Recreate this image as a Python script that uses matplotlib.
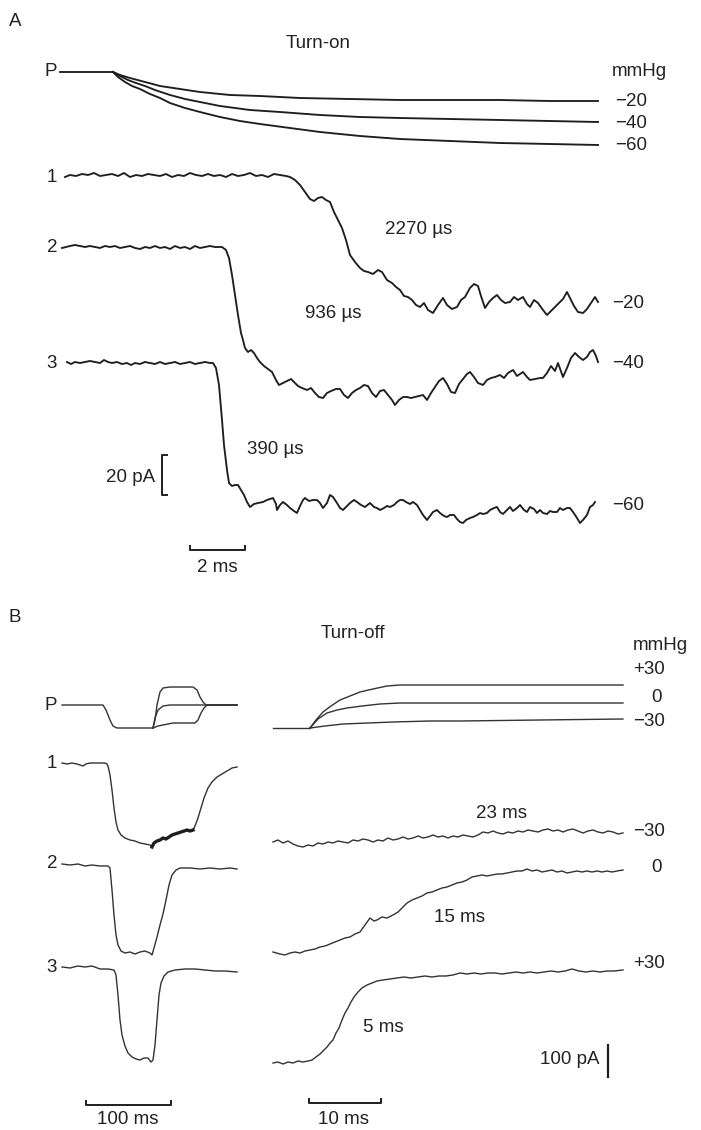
import matplotlib
matplotlib.use("Agg")
from matplotlib import pyplot as plt

plt.rcParams['font.family'] = ['Liberation Sans', 'DejaVu Sans']

# ---- Panel A (turn-on), in picture units ----
pA_flat_x = [60, 113]
pA_flat_y = [72, 72]
pA20_x = [113, 120, 130, 145, 160, 180, 200, 230, 260, 300, 350, 400, 450, 500, 550, 598]
pA20_y = [72, 75, 78, 82, 86, 89, 92, 95, 96, 98, 99, 100, 100, 100, 101, 101]
pA40_x = [113, 120, 128, 136, 145, 155, 170, 185, 200, 220, 250, 280, 320, 360, 400, 450, 500, 550, 598]
pA40_y = [72, 76, 80, 83, 86, 90, 95, 99, 102, 106, 110, 112, 115, 117, 118, 119, 120, 121, 122]
pA60_x = [113, 118, 125, 132, 140, 150, 160, 170, 185, 200, 220, 240, 260, 290, 320, 360, 400, 450, 500, 550, 598]
pA60_y = [72, 77, 82, 86, 89, 94, 98, 103, 108, 112, 117, 121, 124, 128, 132, 136, 139, 141, 143, 144, 145]

a1_x = [65, 70, 76, 82, 88, 94, 100, 106, 112, 118, 124, 130, 136, 142, 148, 154, 160, 166, 172, 178,
        184, 190, 196, 202, 208, 214, 220, 226, 232, 238, 244, 250, 256, 262, 268, 274, 280, 286,
        290, 295, 300, 305, 310, 314, 318, 322, 326, 330, 334, 338, 342, 346, 350, 355, 360, 364,
        368, 373, 378, 382, 387, 392, 396, 400, 404, 408, 412, 416, 420, 424, 428, 433, 438, 443,
        447, 452, 457, 461, 465, 470, 474, 478, 481, 485, 489, 493, 497, 501, 505, 510, 514, 518,
        523, 527, 530, 534, 538, 543, 547, 551, 555, 559, 563, 567, 570, 574, 578, 583, 587, 591,
        595, 598]
a1_y = [177, 175, 176, 174, 175, 173, 176, 175, 174, 176, 173, 177, 175, 176, 174, 175, 176, 174, 177, 175,
        176, 173, 175, 176, 174, 176, 175, 177, 174, 176, 175, 173, 176, 175, 177, 174, 175, 176,
        177, 180, 185, 192, 199, 201, 198, 197, 200, 202, 212, 220, 228, 240, 255, 262, 268, 271,
        272, 274, 270, 272, 280, 283, 287, 290, 296, 297, 300, 305, 307, 303, 310, 313, 305, 298,
        305, 309, 307, 300, 297, 288, 284, 286, 296, 308, 302, 298, 295, 300, 303, 302, 297, 300,
        297, 304, 307, 300, 303, 310, 315, 311, 307, 303, 299, 292, 298, 306, 312, 313, 309, 303,
        297, 302]

a2_x = [62, 66, 70, 75, 80, 85, 90, 95, 100, 105, 110, 115, 120, 125, 130, 135, 140, 145, 150, 155,
        160, 165, 170, 175, 180, 185, 190, 195, 200, 205, 210, 215, 222, 226, 229, 232, 235, 238,
        241, 243, 245, 248, 251, 254, 257, 260, 264, 268, 272, 276, 279, 283, 287, 291, 294, 298,
        302, 307, 311, 315, 319, 323, 327, 331, 336, 340, 344, 348, 352, 356, 360, 364, 368, 372,
        376, 380, 384, 388, 392, 395, 399, 403, 407, 411, 415, 419, 423, 427, 431, 435, 439, 443,
        447, 451, 455, 459, 463, 467, 470, 474, 478, 483, 487, 491, 495, 500, 504, 508, 513, 517,
        520, 523, 527, 530, 535, 540, 543, 547, 551, 555, 558, 563, 567, 571, 575, 579, 583, 587,
        590, 593, 596, 598]
a2_y = [248, 247, 246, 245, 246, 247, 246, 247, 248, 246, 247, 246, 248, 247, 246, 248, 249, 247, 248, 246,
        248, 247, 249, 246, 248, 247, 249, 246, 248, 247, 246, 247, 247, 250, 258, 275, 295, 315,
        333, 340, 348, 352, 350, 353, 358, 362, 366, 369, 372, 380, 385, 383, 381, 379, 382, 386,
        388, 390, 388, 393, 397, 398, 393, 391, 389, 389, 395, 398, 393, 390, 388, 385, 386, 393,
        397, 391, 390, 395, 400, 405, 400, 397, 397, 398, 397, 396, 395, 400, 393, 387, 381, 378,
        384, 392, 393, 384, 379, 374, 372, 377, 383, 385, 380, 378, 377, 375, 378, 373, 370, 376,
        374, 372, 377, 380, 379, 378, 378, 373, 366, 371, 363, 377, 368, 358, 353, 357, 360, 357,
        352, 350, 356, 362]

a3_x = [67, 71, 75, 80, 85, 90, 95, 100, 104, 108, 112, 117, 122, 127, 131, 135, 140, 145, 150, 155,
        160, 165, 170, 175, 180, 185, 190, 195, 200, 205, 210, 213, 216, 219, 222, 224, 227, 229,
        232, 235, 238, 241, 244, 247, 250, 254, 258, 263, 267, 270, 273, 276, 277, 280, 283, 287,
        290, 294, 297, 300, 303, 305, 309, 313, 317, 320, 323, 327, 330, 333, 337, 340, 343, 347,
        350, 354, 357, 361, 365, 370, 374, 377, 380, 384, 387, 390, 394, 397, 400, 403, 406, 410,
        413, 417, 420, 423, 427, 430, 433, 437, 440, 444, 447, 450, 454, 457, 460, 463, 466, 470,
        473, 477, 480, 483, 487, 490, 494, 497, 500, 503, 507, 510, 513, 517, 520, 524, 527, 530,
        534, 537, 540, 543, 547, 550, 553, 557, 560, 563, 567, 570, 573, 577, 580, 583, 587, 590,
        593, 595]
a3_y = [362, 364, 362, 363, 362, 361, 362, 363, 360, 362, 363, 362, 364, 363, 365, 363, 364, 362, 363, 364,
        362, 364, 363, 362, 364, 363, 362, 364, 363, 362, 363, 363, 368, 385, 420, 445, 470, 483,
        486, 485, 485, 490, 495, 502, 507, 504, 503, 502, 500, 499, 498, 504, 510, 505, 502, 505,
        508, 511, 513, 506, 500, 498, 501, 500, 500, 503, 508, 503, 495, 497, 503, 508, 510, 506,
        503, 500, 502, 505, 507, 503, 507, 508, 510, 508, 506, 507, 505, 502, 500, 500, 502, 504,
        502, 505, 510, 515, 520, 516, 512, 510, 513, 516, 517, 515, 515, 519, 522, 523, 520, 518,
        517, 515, 513, 514, 513, 510, 508, 507, 512, 514, 510, 507, 511, 508, 505, 510, 512, 507,
        509, 513, 510, 513, 514, 511, 512, 512, 508, 510, 508, 508, 512, 518, 523, 520, 515, 507,
        505, 502]

# ---- Panel B left (slow pressure steps) ----
pB_common_x = [62, 103, 106, 110, 113, 117, 153]
pB_common_y = [705, 705, 710, 720, 726, 728, 728]
pB_up_x = [153, 155, 157, 160, 163, 170, 193, 197, 200, 203, 206, 212, 237]
pB_up_y = [728, 720, 705, 692, 688, 687, 687, 690, 697, 702, 705, 705, 705]
pB_mid_x = [153, 155, 158, 163, 170, 193, 200, 206, 237]
pB_mid_y = [728, 718, 710, 706, 705, 705, 705, 705, 705]
pB_dn_x = [153, 158, 163, 173, 195, 198, 201, 204, 207, 237]
pB_dn_y = [728, 726, 725, 723, 723, 720, 713, 708, 705, 705]

b1_x = [62, 67, 72, 77, 80, 83, 86, 90, 95, 100, 105, 107, 108, 110, 112, 114, 116, 118, 121, 125,
        130, 135, 140, 145, 150, 152, 154, 157, 160, 163, 166, 169, 172, 175, 178, 181, 184, 187,
        190, 193, 195, 198, 201, 204, 208, 212, 217, 222, 227, 232, 237]
b1_y = [763, 764, 763, 764, 765, 766, 764, 763, 763, 763, 763, 764, 766, 775, 790, 808, 822, 830, 835, 838,
        840, 841, 843, 844, 845, 847, 843, 841, 840, 838, 839, 837, 835, 834, 833, 832, 831, 830,
        831, 830, 826, 818, 808, 798, 788, 782, 777, 774, 771, 768, 767]
b2_x = [62, 70, 78, 85, 92, 100, 108, 110, 112, 114, 116, 118, 121, 125, 130, 135, 140, 145, 150, 152,
        154, 157, 160, 163, 166, 169, 172, 176, 180, 190, 200, 210, 220, 230, 237]
b2_y = [864, 865, 864, 866, 865, 866, 866, 868, 890, 915, 935, 945, 951, 953, 952, 954, 952, 951, 953, 955,
        948, 937, 925, 914, 900, 885, 875, 870, 868, 868, 869, 868, 869, 868, 869]
b3_x = [62, 70, 78, 85, 92, 100, 108, 114, 116, 118, 120, 122, 125, 128, 132, 136, 140, 144, 148, 151,
        153, 155, 157, 159, 161, 164, 168, 175, 185, 195, 205, 215, 225, 237]
b3_y = [967, 968, 966, 967, 966, 969, 969, 970, 975, 995, 1020, 1035, 1046, 1053, 1057, 1059, 1060, 1058, 1058, 1062,
        1060, 1045, 1020, 995, 983, 976, 972, 970, 969, 969, 970, 971, 971, 972]

# ---- Panel B right (turn-off) ----
pR_flat_x = [273, 310]
pR_flat_y = [728, 728]
pR30_x = [310, 316, 323, 331, 340, 350, 360, 373, 387, 400, 450, 520, 623]
pR30_y = [728, 720, 712, 706, 700, 696, 692, 689, 686, 685, 685, 685, 685]
pR0_x = [310, 318, 327, 337, 347, 362, 380, 400, 427, 500, 623]
pR0_y = [728, 719, 713, 710, 708, 706, 704, 703, 703, 703, 703]
pRm30_x = [310, 325, 343, 368, 393, 430, 460, 540, 623]
pRm30_y = [728, 726, 724, 723, 722, 721, 721, 720, 719]

r30_x = list(range(273, 624, 5))
r30_y = [842, 840, 843, 841, 844, 846, 847, 845, 846, 843, 844, 842, 843, 841, 842, 843, 840, 841, 839, 840,
         842, 840, 841, 838, 840, 839, 837, 839, 838, 836, 838, 837, 835, 837, 836, 838, 836, 837, 835, 836,
         837, 835, 832, 833, 831, 833, 834, 832, 833, 831, 832, 830, 831, 832, 830, 829, 831, 830, 832, 830,
         829, 831, 833, 831, 830, 832, 833, 831, 832, 834, 833]
r0_x = [273, 280, 285, 290, 295, 300, 305, 310, 315, 320, 325, 330, 335, 340, 345, 350, 355, 360, 365, 370,
        374, 377, 382, 387, 393, 398, 403, 407, 412, 417, 422, 427, 432, 437, 442, 447, 452, 457, 462, 467,
        472, 477, 482, 487, 492, 497, 502, 507, 512, 517, 522, 527, 532, 537, 542, 547, 552, 557, 562, 567,
        572, 577, 582, 587, 592, 597, 602, 607, 612, 617, 623]
r0_y = [952, 954, 955, 953, 952, 953, 951, 950, 949, 947, 946, 944, 942, 940, 938, 937, 934, 932, 925, 918,
        921, 920, 917, 918, 915, 912, 907, 903, 900, 898, 896, 893, 892, 890, 888, 887, 885, 883, 882, 880,
        877, 876, 875, 876, 875, 874, 874, 873, 872, 871, 871, 869, 871, 870, 872, 871, 870, 872, 871, 873,
        872, 871, 872, 871, 872, 871, 872, 871, 872, 871, 870]
rp30_x = [273, 278, 283, 288, 293, 298, 303, 308, 312, 316, 320, 324, 327, 330, 333, 336, 339, 342, 345, 348,
          351, 354, 358, 362, 367, 372, 377, 383, 390, 397, 404, 411, 418, 425, 432, 439, 446, 453, 460, 467,
          474, 481, 488, 495, 502, 509, 516, 523, 530, 537, 544, 551, 558, 565, 572, 579, 586, 593, 600, 607,
          614, 623]
rp30_y = [1063, 1062, 1064, 1062, 1063, 1061, 1062, 1061, 1060, 1057, 1054, 1050, 1047, 1043, 1040, 1033, 1028, 1020, 1013, 1008,
          1002, 997, 992, 988, 985, 983, 981, 980, 979, 978, 977, 978, 977, 976, 977, 976, 976, 975, 973, 974,
          973, 974, 973, 973, 974, 973, 972, 973, 972, 973, 972, 971, 972, 971, 969, 971, 972, 971, 972, 971,
          971, 970]

# text labels: (text, x, y, ha)
labels = [
    ("A", 9, 22, "left"), ("Turn-on", 318, 44, "center"), ("P", 57, 72, "right"),
    ("mmHg", 612, 72, "left"), ("\u221220", 615, 101, "left"), ("\u221240", 615, 123, "left"),
    ("\u221260", 615, 145, "left"),
    ("1", 57, 177, "right"), ("2", 57, 247, "right"), ("3", 57, 363, "right"),
    ("2270 \u00b5s", 385, 230, "left"), ("936 \u00b5s", 305, 313, "left"), ("390 \u00b5s", 247, 450, "left"),
    ("20 pA", 155, 477, "right"), ("2 ms", 217, 567, "center"),
    ("\u221220", 612, 303, "left"), ("\u221240", 612, 363, "left"), ("\u221260", 612, 505, "left"),
    ("B", 9, 618, "left"), ("Turn-off", 353, 633, "center"), ("mmHg", 633, 645, "left"),
    ("+30", 633, 670, "left"), ("0", 657, 697, "center"), ("\u221230", 633, 722, "left"),
    ("P", 57, 705, "right"), ("1", 57, 763, "right"), ("2", 57, 864, "right"), ("3", 57, 967, "right"),
    ("100 ms", 128, 1120, "center"), ("10 ms", 343, 1120, "center"),
    ("23 ms", 502, 813, "center"), ("15 ms", 460, 917, "center"), ("5 ms", 383, 1027, "center"),
    ("100 pA", 600, 1060, "right"),
    ("\u221230", 633, 832, "left"), ("0", 657, 867, "center"), ("+30", 633, 963, "left"),
]

# horizontal time scale bars: (x0, x1, y)
time_bars = [(190, 245, 550), (86, 171, 1105), (309, 381, 1103)]

fig = plt.figure(figsize=(7.01, 11.30), dpi=100)
ax = fig.add_axes([0, 0, 1, 1])
ax.set_xlim(0, 701)
ax.set_ylim(1130, 0)
ax.axis('off')

ink = '#1e1e1e'
thick = dict(color=ink, lw=1.35, solid_joinstyle='round')
thin = dict(color='#333333', lw=1.0, solid_joinstyle='round')

# panel A
ax.plot(pA_flat_x, pA_flat_y, **thick)
for xs, ys in [(pA20_x, pA20_y), (pA40_x, pA40_y), (pA60_x, pA60_y)]:
    ax.plot(xs, ys, **thick)
for xs, ys in [(a1_x, a1_y), (a2_x, a2_y), (a3_x, a3_y)]:
    ax.plot(xs, ys, **thick)

# panel B left
ax.plot(pB_common_x, pB_common_y, **thin)
for xs, ys in [(pB_up_x, pB_up_y), (pB_mid_x, pB_mid_y), (pB_dn_x, pB_dn_y)]:
    ax.plot(xs, ys, **thin)
for xs, ys in [(b1_x, b1_y), (b2_x, b2_y), (b3_x, b3_y)]:
    ax.plot(xs, ys, **thin)
# noisy thick stretch at the bottom of trace 1
i0, i1 = b1_x.index(152), b1_x.index(193)
ax.plot(b1_x[i0:i1 + 1], b1_y[i0:i1 + 1], color=ink, lw=2.4)

# panel B right
ax.plot(pR_flat_x, pR_flat_y, **thin)
for xs, ys in [(pR30_x, pR30_y), (pR0_x, pR0_y), (pRm30_x, pRm30_y)]:
    ax.plot(xs, ys, **thin)
for xs, ys in [(r30_x, r30_y), (r0_x, r0_y), (rp30_x, rp30_y)]:
    ax.plot(xs, ys, **thin)

# scale bars
for x0, x1, y in time_bars:
    ax.plot([x0, x0, x1, x1], [y - 4, y, y, y - 4], color=ink, lw=1.4)
ax.plot([167, 162, 162, 167], [455, 455, 495, 495], color=ink, lw=1.4)  # 20 pA bracket
ax.plot([608, 608], [1045, 1077], color=ink, lw=1.6)  # 100 pA bar

for txt, x, y, ha in labels:
    ax.text(x, y, txt, ha=ha, va='center', fontsize=13.5, color='#222222')

fig.savefig('out.png', dpi=100)
